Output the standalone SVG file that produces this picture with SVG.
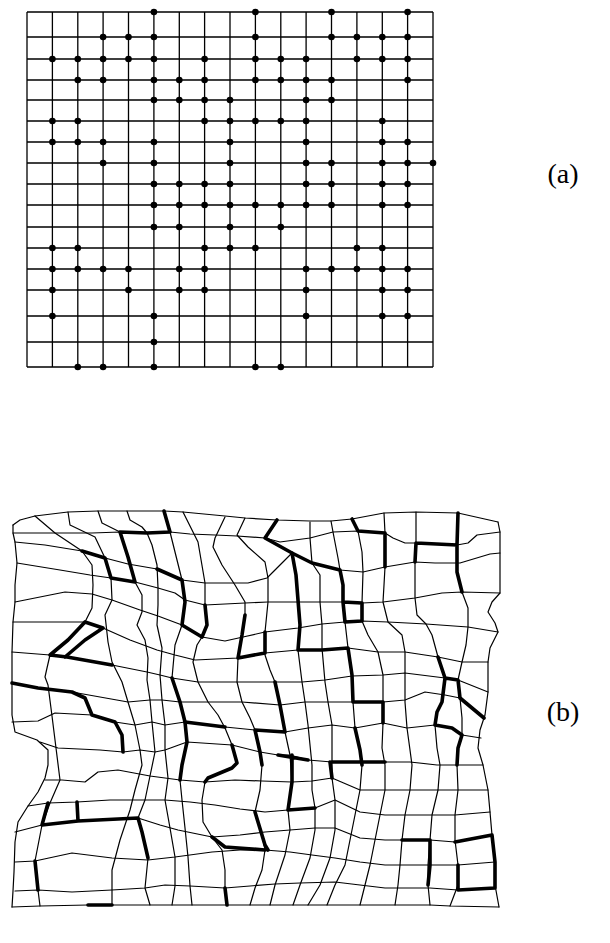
<svg xmlns="http://www.w3.org/2000/svg" width="610" height="943" viewBox="0 0 610 943">
<style>
.g{fill:none;stroke:#000;stroke-width:1.3}
.t{fill:none;stroke:#000;stroke-width:1.2;stroke-linejoin:round;stroke-linecap:round}
.k{fill:none;stroke:#000;stroke-width:3.6;stroke-linejoin:round;stroke-linecap:round}
.lab{font-family:"Liberation Serif","Times New Roman",serif;font-size:28px;fill:#000;text-anchor:middle}
</style>
<rect width="610" height="943" fill="#fff"/>
<g id="panel-a">
<path class="g" d="M27 12V367M52.4 12V367M77.8 12V367M103.1 12V367M128.5 12V367M153.9 12V367M179.3 12V367M204.6 12V367M230 12V367M255.4 12V367M280.8 12V367M306.1 12V367M331.5 12V367M356.9 12V367M382.3 12V367M407.6 12V367M433 12V367"/>
<path class="g" d="M27 12H433M27 37H433M27 59H433M27 80H433M27 100H433M27 121H433M27 142H433M27 163H433M27 184H433M27 205H433M27 227H433M27 248H433M27 269H433M27 290H433M27 316H433M27 342H433M27 367H433"/>
<g id="dots" fill="#000">
<circle cx="153.9" cy="12" r="3.3"/><circle cx="255.4" cy="12" r="3.3"/><circle cx="331.5" cy="12" r="3.3"/><circle cx="407.6" cy="12" r="3.3"/>
<circle cx="103.1" cy="37" r="3.3"/><circle cx="128.5" cy="37" r="3.3"/><circle cx="153.9" cy="37" r="3.3"/><circle cx="255.4" cy="37" r="3.3"/><circle cx="331.5" cy="37" r="3.3"/><circle cx="356.9" cy="37" r="3.3"/><circle cx="382.3" cy="37" r="3.3"/><circle cx="407.6" cy="37" r="3.3"/>
<circle cx="52.4" cy="59" r="3.3"/><circle cx="77.8" cy="59" r="3.3"/><circle cx="103.1" cy="59" r="3.3"/><circle cx="128.5" cy="59" r="3.3"/><circle cx="153.9" cy="59" r="3.3"/><circle cx="204.6" cy="59" r="3.3"/><circle cx="255.4" cy="59" r="3.3"/><circle cx="280.8" cy="59" r="3.3"/><circle cx="306.1" cy="59" r="3.3"/><circle cx="356.9" cy="59" r="3.3"/><circle cx="382.3" cy="59" r="3.3"/><circle cx="407.6" cy="59" r="3.3"/>
<circle cx="77.8" cy="80" r="3.3"/><circle cx="103.1" cy="80" r="3.3"/><circle cx="153.9" cy="80" r="3.3"/><circle cx="179.3" cy="80" r="3.3"/><circle cx="204.6" cy="80" r="3.3"/><circle cx="255.4" cy="80" r="3.3"/><circle cx="280.8" cy="80" r="3.3"/><circle cx="306.1" cy="80" r="3.3"/><circle cx="331.5" cy="80" r="3.3"/><circle cx="407.6" cy="80" r="3.3"/>
<circle cx="153.9" cy="100" r="3.3"/><circle cx="179.3" cy="100" r="3.3"/><circle cx="204.6" cy="100" r="3.3"/><circle cx="230" cy="100" r="3.3"/><circle cx="306.1" cy="100" r="3.3"/><circle cx="331.5" cy="100" r="3.3"/>
<circle cx="52.4" cy="121" r="3.3"/><circle cx="77.8" cy="121" r="3.3"/><circle cx="204.6" cy="121" r="3.3"/><circle cx="230" cy="121" r="3.3"/><circle cx="255.4" cy="121" r="3.3"/><circle cx="280.8" cy="121" r="3.3"/><circle cx="306.1" cy="121" r="3.3"/><circle cx="382.3" cy="121" r="3.3"/>
<circle cx="52.4" cy="142" r="3.3"/><circle cx="77.8" cy="142" r="3.3"/><circle cx="103.1" cy="142" r="3.3"/><circle cx="153.9" cy="142" r="3.3"/><circle cx="230" cy="142" r="3.3"/><circle cx="306.1" cy="142" r="3.3"/><circle cx="382.3" cy="142" r="3.3"/><circle cx="407.6" cy="142" r="3.3"/>
<circle cx="103.1" cy="163" r="3.3"/><circle cx="153.9" cy="163" r="3.3"/><circle cx="230" cy="163" r="3.3"/><circle cx="306.1" cy="163" r="3.3"/><circle cx="331.5" cy="163" r="3.3"/><circle cx="382.3" cy="163" r="3.3"/><circle cx="407.6" cy="163" r="3.3"/><circle cx="433" cy="163" r="3.3"/>
<circle cx="153.9" cy="184" r="3.3"/><circle cx="179.3" cy="184" r="3.3"/><circle cx="204.6" cy="184" r="3.3"/><circle cx="230" cy="184" r="3.3"/><circle cx="306.1" cy="184" r="3.3"/><circle cx="331.5" cy="184" r="3.3"/><circle cx="382.3" cy="184" r="3.3"/><circle cx="407.6" cy="184" r="3.3"/>
<circle cx="153.9" cy="205" r="3.3"/><circle cx="179.3" cy="205" r="3.3"/><circle cx="204.6" cy="205" r="3.3"/><circle cx="230" cy="205" r="3.3"/><circle cx="255.4" cy="205" r="3.3"/><circle cx="280.8" cy="205" r="3.3"/><circle cx="306.1" cy="205" r="3.3"/><circle cx="331.5" cy="205" r="3.3"/><circle cx="382.3" cy="205" r="3.3"/><circle cx="407.6" cy="205" r="3.3"/>
<circle cx="153.9" cy="227" r="3.3"/><circle cx="179.3" cy="227" r="3.3"/><circle cx="230" cy="227" r="3.3"/><circle cx="280.8" cy="227" r="3.3"/>
<circle cx="52.4" cy="248" r="3.3"/><circle cx="77.8" cy="248" r="3.3"/><circle cx="204.6" cy="248" r="3.3"/><circle cx="230" cy="248" r="3.3"/><circle cx="255.4" cy="248" r="3.3"/><circle cx="356.9" cy="248" r="3.3"/><circle cx="382.3" cy="248" r="3.3"/>
<circle cx="52.4" cy="269" r="3.3"/><circle cx="77.8" cy="269" r="3.3"/><circle cx="103.1" cy="269" r="3.3"/><circle cx="128.5" cy="269" r="3.3"/><circle cx="179.3" cy="269" r="3.3"/><circle cx="204.6" cy="269" r="3.3"/><circle cx="306.1" cy="269" r="3.3"/><circle cx="331.5" cy="269" r="3.3"/><circle cx="356.9" cy="269" r="3.3"/><circle cx="382.3" cy="269" r="3.3"/><circle cx="407.6" cy="269" r="3.3"/>
<circle cx="52.4" cy="290" r="3.3"/><circle cx="128.5" cy="290" r="3.3"/><circle cx="179.3" cy="290" r="3.3"/><circle cx="204.6" cy="290" r="3.3"/><circle cx="306.1" cy="290" r="3.3"/><circle cx="382.3" cy="290" r="3.3"/><circle cx="407.6" cy="290" r="3.3"/>
<circle cx="52.4" cy="316" r="3.3"/><circle cx="153.9" cy="316" r="3.3"/><circle cx="306.1" cy="316" r="3.3"/><circle cx="382.3" cy="316" r="3.3"/><circle cx="407.6" cy="316" r="3.3"/>
<circle cx="153.9" cy="342" r="3.3"/>
<circle cx="77.8" cy="367" r="3.3"/><circle cx="103.1" cy="367" r="3.3"/><circle cx="153.9" cy="367" r="3.3"/><circle cx="255.4" cy="367" r="3.3"/><circle cx="280.8" cy="367" r="3.3"/>
</g>
</g>
<g id="panel-b">
<g id="vlines">
<path class="t" d="M13,525 L13,533 15,542 17,563 15,585 15,602 13,622 12,652 12,683 12,715 15,732 37,740 48,750 48,765 45,778 38,792 28,806 18,822 15,842 14,872 13,891 12,907"/>
<path class="t" d="M35,516 L55,533 82,551 92,565 93,585 92,608 85,622 68,640 50,655 47,668 45,677 48,685 52,716 56,748 60,780 50,803 42,825 35,861 38,890 40,906"/>
<path class="t" d="M68,512 L70,525 95,537 105,558 111,578 112,600 105,615 108,642 112,662 122,682 128,702 135,725 140,750 142,765 135,790 130,810 120,840 112,870 112,890 112,905"/>
<path class="t" d="M98,511 L102,523 120,532 128,557 135,582 142,595 142,612 137,625 145,640 148,658 147,680 150,700 152,722 155,752 150,776 145,800 138,818 142,832 148,858 145,888 150,905"/>
<path class="t" d="M127,511 L130,520 142,527 147,533 152,545 157,565 158,588 158,605 157,625 162,648 160,675 162,700 165,725 165,750 168,778 165,800 170,828 175,857 175,886 172,905"/>
<path class="t" d="M164,511 L170,532 175,552 182,580 185,602 182,625 175,645 172,678 180,702 185,722 187,742 182,765 180,780 182,800 185,828 188,857 190,886 192,905"/>
<path class="t" d="M183,512 L198,542 205,583 205,605 207,625 202,637 197,645 193,662 198,682 208,702 218,715 225,728 232,745 237,763 232,768 208,778 205,782 202,800 203,822 212,837 222,850 225,870 225,888 227,905"/>
<path class="t" d="M225,517 L215,538 213,547 222,565 235,585 245,602 245,615 242,635 238,658 237,682 242,702 250,718 255,730 260,752 262,765 260,790 255,812 262,835 265,850 262,870 255,888 250,905"/>
<path class="t" d="M245,518 L237,535 248,547 265,562 268,578 268,602 265,632 265,655 270,670 275,682 280,705 285,732 290,755 292,782 288,810 290,830 285,855 275,885 270,905"/>
<path class="t" d="M277,520 L265,538 292,553 296,575 298,600 300,625 298,650 302,682 305,702 308,725 310,745 312,765 312,790 315,808 315,830 310,858 300,885 293,905"/>
<path class="t" d="M310,522 L310,538 312,563 320,575 320,602 322,625 322,648 325,682 328,702 332,725 332,762 332,778 335,800 335,830 330,858 320,885 308,905"/>
<path class="t" d="M331,521 L333,532 338,558 340,570 343,585 343,602 345,622 348,648 352,675 353,702 355,728 360,750 362,765 360,790 355,815 350,840 345,865 335,885 327,905"/>
<path class="t" d="M352,519 L358,531 362,552 363,572 362,603 362,621 368,635 378,652 383,675 383,702 383,723 382,748 385,765 385,790 380,815 375,840 370,865 365,885 360,905"/>
<path class="t" d="M384,513 L385,533 385,567 384,585 383,602 388,622 402,635 405,652 405,675 405,702 407,728 410,750 412,765 410,790 405,815 402,840 400,865 398,885 395,905"/>
<path class="t" d="M416,512 L416,543 415,562 415,598 417,615 426,624 432,635 438,657 445,678 442,702 437,712 435,725 437,748 440,765 438,790 432,815 430,840 428,865 428,885 430,905"/>
<path class="t" d="M458,513 L457,545 457,572 462,592 468,608 468,627 466,645 462,662 458,680 460,698 462,718 462,735 458,748 457,765 458,790 455,815 455,840 458,865 458,885 450,906"/>
<path class="t" d="M498,522 L500,532 500,553 500,593 492,602 488,612 495,623 498,632 490,648 488,662 488,692 485,715 480,730 478,748 483,765 488,790 490,812 492,835 495,862 495,885 499,907"/>
</g>
<g id="hlines">
<path class="t" d="M13,525 L20,520 35,516 68,512 98,511 127,511 164,511 183,512 225,516 245,518 277,520 310,521 331,521 352,519 384,513 416,512 458,513 498,522"/>
<path class="t" d="M13,533 L55,533 92,533 120,532 147,533 170,532 190,534 215,535 237,536 265,538 280,542 310,538 333,532 358,531 385,533 393,538 405,543 416,543 457,545 468,543 477,535 500,532"/>
<path class="t" d="M15,542 L45,545 82,551 105,558 128,564 157,569 182,580 205,583 234,583 248,583 267,578 280,565 292,553 312,563 340,570 363,572 385,567 415,562 435,563 460,563 490,554 500,553"/>
<path class="t" d="M17,563 L60,570 90,575 111,578 135,582 158,588 175,593 185,600 205,605 245,603 268,602 297,602 320,602 343,602 362,603 383,602 415,598 442,593 462,592 500,593"/>
<path class="t" d="M15,602 L65,592 92,594 112,600 140,610 158,616 182,625 202,637 225,641 243,637 265,632 298,628 322,624 345,622 362,621 388,622 426,624 468,627 498,632"/>
<path class="t" d="M13,622 L85,622 103,628 130,640 157,650 175,655 195,660 238,658 265,653 298,650 322,650 348,648 378,652 405,652 438,657 462,662 488,662"/>
<path class="t" d="M12,652 L50,655 67,657 112,665 147,672 160,675 172,678 198,682 237,682 275,682 302,682 325,680 352,676 383,675 405,673 445,678 458,680 488,692"/>
<path class="t" d="M12,683 L38,688 72,692 128,702 150,700 162,700 180,702 208,702 242,702 280,705 305,702 328,702 353,702 383,702 405,700 425,692 445,695 460,698 484,718"/>
<path class="t" d="M12,722 L38,721 55,713 92,715 115,722 135,725 152,722 165,725 185,722 225,727 255,730 285,732 308,728 332,725 355,728 383,723 407,728 435,725 452,728 462,735 481,738"/>
<path class="t" d="M40,742 L58,748 100,750 123,752 140,750 155,752 165,750 187,742 232,745 260,752 278,755 290,755 308,760 332,762 360,762 385,762 410,762 437,765 457,765 483,765"/>
<path class="t" d="M45,780 L62,780 85,782 98,772 118,770 150,776 180,780 205,782 235,780 262,781 292,782 312,781 332,778 360,790 385,790 410,790 438,790 458,790 488,790"/>
<path class="t" d="M28,806 L48,803 77,802 110,800 145,800 165,800 190,802 215,805 240,809 265,812 288,810 315,808 335,800 360,812 385,815 405,815 432,815 455,815 490,812"/>
<path class="t" d="M15,832 L42,825 78,821 110,820 138,818 160,825 178,830 212,837 240,835 265,832 290,830 315,828 335,828 360,838 385,840 402,840 430,840 455,842 492,835"/>
<path class="t" d="M15,862 L35,861 72,853 112,858 148,860 175,857 212,852 240,850 265,850 290,852 312,855 335,858 360,862 385,865 402,865 430,865 458,865 495,862"/>
<path class="t" d="M15,891 L38,890 72,892 112,890 145,888 165,885 190,886 225,888 250,886 275,884 300,883 335,882 360,885 385,888 405,888 430,888 458,890 495,888"/>
<path class="t" d="M12,907 L40,906 88,905 112,905 150,905 172,905 200,905 225,905 245,905 270,905 293,905 308,905 327,905 360,905 395,905 430,905 450,906 499,907"/>
</g>
<g id="thick">
<path class="k" d="M82,551 L105,558 111,578 135,582 128,557 120,532 147,533 170,532 164,511"/>
<path class="k" d="M157,569 L182,580 185,602 182,625 202,637 207,625 205,605"/>
<path class="k" d="M277,520 L265,538 292,553 312,563 340,570 343,585 343,602 345,622 362,621 362,603 343,602"/>
<path class="k" d="M292,553 L296,575 298,600 300,625 298,650 322,650 348,648 352,675 353,702 383,702 383,723"/>
<path class="k" d="M352,519 L358,531 385,533 385,567"/>
<path class="k" d="M416,543 L415,562 M416,543 L457,545 M458,513 L457,545 457,572 462,592"/>
<path class="k" d="M85,622 L68,640 50,655 M85,622 L103,628 85,640 65,657 M50,655 L67,657 112,665"/>
<path class="k" d="M12,683 L38,688 72,692 85,698 92,715 115,722 122,735 123,752"/>
<path class="k" d="M172,678 L180,702 185,722 187,742 182,765 180,780"/>
<path class="k" d="M245,615 L242,635 238,658 265,653 265,632"/>
<path class="k" d="M275,682 L280,705 285,732 255,730 260,752 262,765"/>
<path class="k" d="M185,722 L225,727"/>
<path class="k" d="M438,657 L445,678 442,702 437,712 435,725 452,728 462,735 458,748 457,765 M445,678 L458,680 460,698 472,708 484,718"/>
<path class="k" d="M232,745 L237,763 232,768 208,778 205,782"/>
<path class="k" d="M355,728 L360,750 362,765 M332,762 L385,762"/>
<path class="k" d="M48,803 L42,825 78,821 138,818 142,832 148,858 M77,802 L78,821 M35,861 L38,890 M88,905 L112,905"/>
<path class="k" d="M292,755 L292,782 288,810 315,808 M278,755 L308,760 M255,812 L265,845 268,850 M212,837 L225,847 265,850 M225,888 L227,905 M330,762 L332,778"/>
<path class="k" d="M402,840 L430,840 430,865 428,885 M455,842 L492,835 495,862 495,888 458,890 458,865"/>
</g>
</g>
<g id="labels">
<text class="lab" x="563" y="183">(a)</text>
<text class="lab" x="563" y="721">(b)</text>
</g>
</svg>
